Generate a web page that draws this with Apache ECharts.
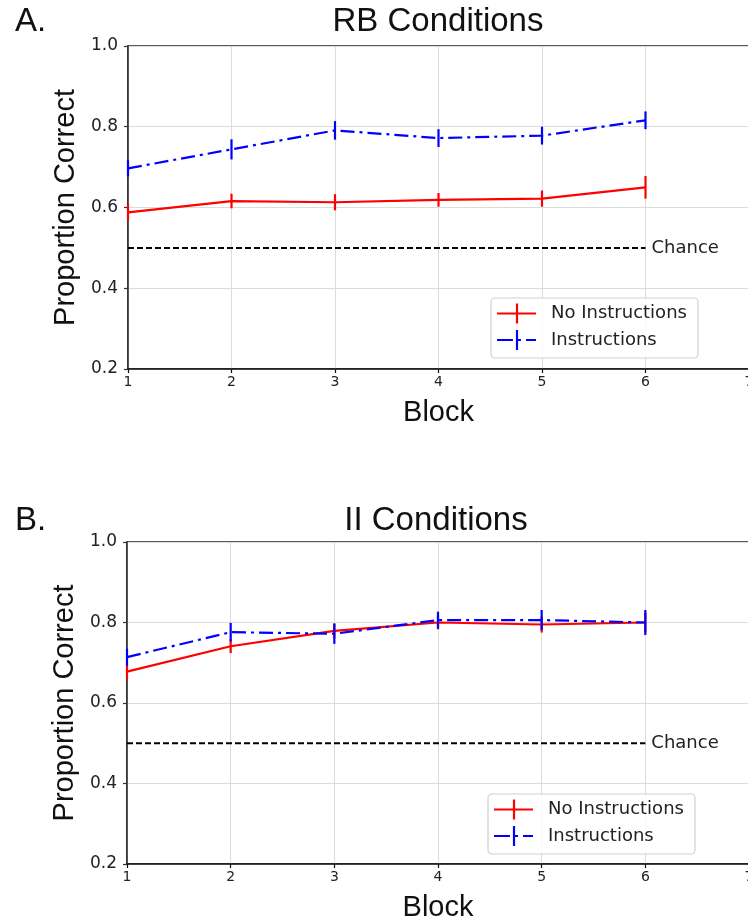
<!DOCTYPE html>
<html>
<head>
<meta charset="utf-8">
<script src="https://cdn.jsdelivr.net/npm/echarts@6/dist/echarts.min.js"></script>
<style>
html,body{margin:0;padding:0;background:#fff;}
#chart{width:748px;height:920px;}
</style>
</head>
<body>
<div id="chart"></div>
<script>
// ---- data ----
const blocks = [1, 2, 3, 4, 5, 6];
const yTicks = [0.2, 0.4, 0.6, 0.8, 1.0];
const chanceLevel = 0.5;
const seriesNames = ['No Instructions', 'Instructions'];
const panelTitles = ['RB Conditions', 'II Conditions'];
const panelLabels = ['A.', 'B.'];

const rbNoInstr    = [0.588, 0.616, 0.613, 0.619, 0.622, 0.650];
const rbNoInstrErr = [0.020, 0.018, 0.020, 0.017, 0.020, 0.028];
const rbInstr      = [0.697, 0.744, 0.791, 0.772, 0.778, 0.816];
const rbInstrErr   = [0.020, 0.025, 0.023, 0.022, 0.022, 0.022];

const iiNoInstr    = [0.678, 0.741, 0.779, 0.800, 0.795, 0.800];
const iiNoInstrErr = [0.019, 0.017, 0.019, 0.017, 0.020, 0.024];
const iiInstr      = [0.714, 0.776, 0.772, 0.806, 0.806, 0.800];
const iiInstrErr   = [0.021, 0.023, 0.025, 0.021, 0.025, 0.031];

// ---- style ----
const RED = '#ff0000', BLUE = '#0000ff';
const LW = 2.2;
const DASHDOT = [14, 5, 3, 5];
const TICK_FONT = 'DejaVu Sans';
const LABEL_FONT = 'Liberation Sans';

const chart = echarts.init(document.getElementById('chart'), null, {renderer: 'canvas'});

const grids = [
  {left: 128, top: 46, width: 621, height: 323},
  {left: 127, top: 542, width: 622, height: 322}
];

function xAxisFor(i) {
  return {
    type: 'value', gridIndex: i, min: 1, max: 7, interval: 1,
    name: 'Block', nameLocation: 'middle', nameGap: 29,
    nameTextStyle: {fontFamily: LABEL_FONT, fontSize: 29, color: '#111'},
    axisLine: {show: true, onZero: false, lineStyle: {color: '#111', width: 1.6}},
    axisTick: {show: true, length: 4, lineStyle: {color: '#111', width: 1.2}},
    axisLabel: {fontFamily: TICK_FONT, fontSize: 14, color: '#222', margin: 6,
                showMaxLabel: true, showMinLabel: true},
    splitLine: {show: true, lineStyle: {color: '#dcdcdc', width: 1}}
  };
}
function yAxisFor(i) {
  return {
    type: 'value', gridIndex: i, min: 0.2, max: 1.0, interval: 0.2,
    name: 'Proportion Correct', nameLocation: 'middle', nameGap: 48,
    nameTextStyle: {fontFamily: LABEL_FONT, fontSize: 29, color: '#111'},
    axisLine: {show: true, lineStyle: {color: '#333', width: 1.6}},
    axisTick: {show: true, length: 4, lineStyle: {color: '#333', width: 1.2}},
    axisLabel: {fontFamily: TICK_FONT, fontSize: 17, color: '#222', margin: 10,
                formatter: v => v.toFixed(1)},
    splitLine: {show: true, lineStyle: {color: '#dcdcdc', width: 1}}
  };
}

function lineSeries(i, name, vals, color, dashed, z) {
  return {
    type: 'line', name, xAxisIndex: i, yAxisIndex: i,
    data: blocks.map((b, k) => [b, vals[k]]),
    showSymbol: false, symbol: 'none', z,
    lineStyle: {color, width: LW, type: dashed ? DASHDOT : 'solid'},
    emphasis: {disabled: true}
  };
}
function errSeries(i, vals, errs, color, z) {
  return {
    type: 'custom', xAxisIndex: i, yAxisIndex: i, z,
    encode: {x: 0, y: [1, 2]},
    data: blocks.map((b, k) => [b, vals[k] - errs[k], vals[k] + errs[k]]),
    renderItem: function (params, api) {
      const p1 = api.coord([api.value(0), api.value(1)]);
      const p2 = api.coord([api.value(0), api.value(2)]);
      return {type: 'line', shape: {x1: p1[0], y1: p1[1], x2: p2[0], y2: p2[1]},
              style: {stroke: color, lineWidth: LW}};
    }
  };
}
function chanceSeries(i) {
  return {
    type: 'line', xAxisIndex: i, yAxisIndex: i, z: 1,
    data: [[blocks[0], chanceLevel], [blocks[blocks.length - 1], chanceLevel]],
    showSymbol: false, symbol: 'none',
    lineStyle: {color: '#000', width: 2, type: [6, 3]},
    endLabel: {show: true, formatter: 'Chance', distance: 6,
               fontFamily: TICK_FONT, fontSize: 18, color: '#222'},
    emphasis: {disabled: true}
  };
}

const series = [
  lineSeries(0, seriesNames[0], rbNoInstr, RED, false, 2),
  errSeries(0, rbNoInstr, rbNoInstrErr, RED, 2),
  lineSeries(0, seriesNames[1], rbInstr, BLUE, true, 3),
  errSeries(0, rbInstr, rbInstrErr, BLUE, 3),
  chanceSeries(0),
  lineSeries(1, seriesNames[0], iiNoInstr, RED, false, 2),
  errSeries(1, iiNoInstr, iiNoInstrErr, RED, 2),
  lineSeries(1, seriesNames[1], iiInstr, BLUE, true, 3),
  errSeries(1, iiInstr, iiInstrErr, BLUE, 3),
  chanceSeries(1)
];

// legend box drawn as graphics (layout only)
function legendGraphics(x, y) {
  const els = [];
  els.push({type: 'rect', shape: {x: x, y: y, width: 207, height: 60, r: 4},
            style: {fill: 'rgba(255,255,255,0.85)', stroke: '#d0d0d0', lineWidth: 1.2}, z: 10});
  const r1 = y + 15.5, r2 = y + 42;
  els.push({type: 'line', shape: {x1: x + 6, y1: r1, x2: x + 45, y2: r1}, style: {stroke: RED, lineWidth: LW}, z: 11});
  els.push({type: 'line', shape: {x1: x + 26, y1: r1 - 10, x2: x + 26, y2: r1 + 10}, style: {stroke: RED, lineWidth: LW}, z: 11});
  els.push({type: 'line', shape: {x1: x + 6, y1: r2, x2: x + 45, y2: r2}, style: {stroke: BLUE, lineWidth: LW, lineDash: [16, 5, 3, 5]}, z: 11});
  els.push({type: 'line', shape: {x1: x + 26, y1: r2 - 10, x2: x + 26, y2: r2 + 10}, style: {stroke: BLUE, lineWidth: LW}, z: 11});
  els.push({type: 'text', x: x + 60, y: r1, style: {text: seriesNames[0], font: '18px "DejaVu Sans"', fill: '#222', textVerticalAlign: 'middle'}, z: 11});
  els.push({type: 'text', x: x + 60, y: r2, style: {text: seriesNames[1], font: '18px "DejaVu Sans"', fill: '#222', textVerticalAlign: 'middle'}, z: 11});
  return els;
}

const graphic = [
  {type: 'text', x: 15, y: 22, style: {text: panelLabels[0], font: '33px "Liberation Sans"', fill: '#111', textVerticalAlign: 'middle'}},
  {type: 'text', x: 438, y: 22, style: {text: panelTitles[0], font: '33px "Liberation Sans"', fill: '#111', textAlign: 'center', textVerticalAlign: 'middle'}},
  {type: 'text', x: 15, y: 521, style: {text: panelLabels[1], font: '33px "Liberation Sans"', fill: '#111', textVerticalAlign: 'middle'}},
  {type: 'text', x: 436, y: 521, style: {text: panelTitles[1], font: '33px "Liberation Sans"', fill: '#111', textAlign: 'center', textVerticalAlign: 'middle'}},
  ...legendGraphics(491, 298),
  ...legendGraphics(488, 794)
];

chart.setOption({
  animation: false,
  backgroundColor: '#fff',
  grid: grids.map(g => Object.assign({show: true, borderColor: '#222', borderWidth: 1.6,
                                      backgroundColor: 'transparent', containLabel: false,
                                      outerBoundsMode: 'none'}, g)),
  xAxis: [xAxisFor(0), xAxisFor(1)],
  yAxis: [yAxisFor(0), yAxisFor(1)],
  series,
  graphic
});
</script>
</body>
</html>
